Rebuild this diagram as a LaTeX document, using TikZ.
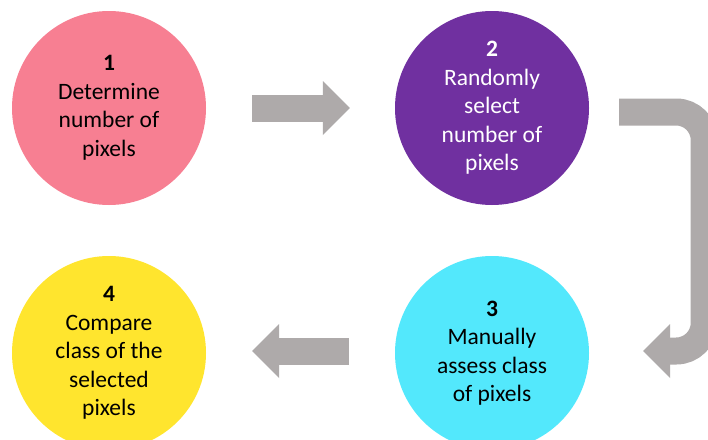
\documentclass[tikz,border=0pt]{standalone}
\usepackage{fontspec}
\setmainfont{Carlito}
\usetikzlibrary{arrows.meta}
\definecolor{steppink}{RGB}{247,127,146}
\definecolor{steppurple}{RGB}{112,48,160}
\definecolor{stepcyan}{RGB}{83,232,252}
\definecolor{stepyellow}{RGB}{255,229,46}
\definecolor{flowgray}{RGB}{174,170,170}
\begin{document}
\begin{tikzpicture}[x=1pt,y=-1pt,
    stepdisc/.style={circle,minimum size=194pt,inner sep=0pt,align=center,
      font=\fontsize{23.5}{28.5}\selectfont},
    flow/.style={draw=flowgray,line width=27pt,
      -{Triangle[length=27pt,width=54pt,line width=0pt,color=flowgray]}}]
    \clip (0,0) rectangle (708,439);
    \fill[white] (0,0) rectangle (708,439);
    \node[stepdisc,fill=steppink]   (c1) at (109,108) {\textbf{1}\\Determine\\number of\\pixels};
    \node[stepdisc,fill=steppurple,text=white] (c2) at (492,108) {\textbf{2}\\Randomly\\select\\number of\\pixels};
    \node[stepdisc,fill=stepcyan]   (c3) at (492,353) {\textbf{3}\\Manually\\assess class\\of pixels};
    \node[stepdisc,fill=stepyellow] (c4) at (109,353) {\textbf{4}\\Compare\\class of the\\selected\\pixels};
    \draw[flow,shorten <=46pt,shorten >=45pt] (c1) -- (c2);
    \draw[flow,rounded corners=28pt,shorten <=30pt,shorten >=54pt]
      ([yshift=-4pt]c2.east) -- ++(115,0) |- ([yshift=2pt]c3.east);
    \draw[flow,shorten <=46pt,shorten >=46pt] ([yshift=2pt]c3.west) -- ([yshift=2pt]c4.east);
\end{tikzpicture}
\end{document}
